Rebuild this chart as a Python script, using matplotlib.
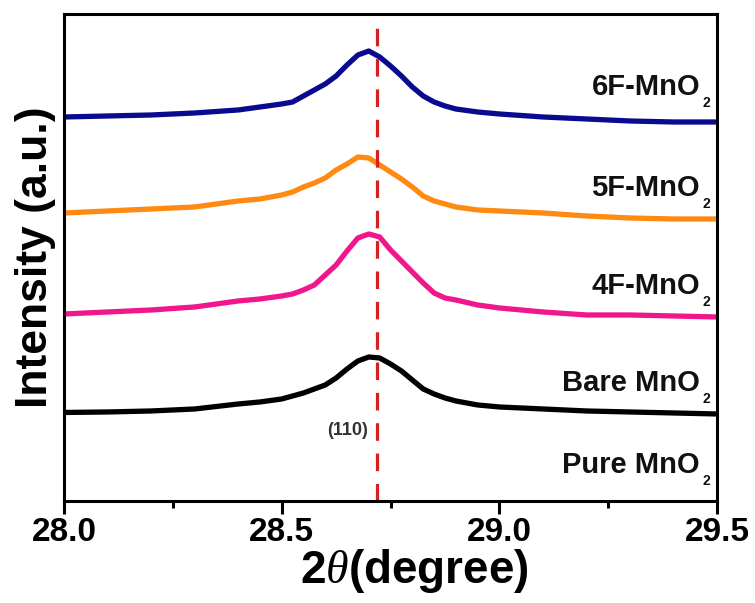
import numpy as np
import matplotlib
matplotlib.use("Agg")
from matplotlib import pyplot as plt
from matplotlib.ticker import MultipleLocator

plt.rcParams['font.family'] = ['Liberation Sans', 'DejaVu Sans']
plt.rcParams['mathtext.fontset'] = 'custom'
plt.rcParams['mathtext.rm'] = 'Liberation Sans:bold'
plt.rcParams['mathtext.it'] = 'Liberation Serif:italic'
plt.rcParams['mathtext.bf'] = 'Liberation Sans:bold'

# 2theta sample positions (degree)
two_theta = [28.0, 28.1, 28.2, 28.3, 28.4, 28.45, 28.5, 28.525, 28.55, 28.575,
             28.6, 28.625, 28.65, 28.675, 28.7, 28.725, 28.75, 28.775, 28.8,
             28.825, 28.85, 28.875, 28.9, 28.95, 29.0, 29.1, 29.2, 29.3, 29.4, 29.5]

# intensity (a.u., stacked with offsets)
bare = [88.5, 89, 90, 92, 97, 99, 102, 105, 108, 112,
        116, 123, 132, 140, 144, 143, 137, 130, 121,
        112, 107, 103, 100, 96, 94, 92, 90, 89, 88, 87]
f4 = [187, 189, 191, 194, 200, 202, 205, 207, 211, 216,
      226, 236, 250, 263, 267, 264, 251, 240, 229,
      218, 208, 203, 201, 196, 193, 189, 186, 186, 185, 184]
f5 = [288, 290, 292, 294, 300, 302, 306, 309, 314, 318,
      323, 331, 337, 344, 343, 336, 329, 322, 314,
      305, 300, 297, 294, 291, 290, 288, 285, 283, 282, 282]
f6 = [384, 385, 386, 388, 391, 394, 397, 399, 405, 411,
      417, 425, 436, 446, 450, 444, 435, 425, 414,
      405, 399, 395, 392, 389, 387, 384, 382, 380, 379, 379]

series = [bare, f4, f5, f6]
colors = ['black', '#F0168C', '#FF8A12', '#0A0A8E']
names = ['Pure MnO', 'Bare MnO', '4F-MnO', '5F-MnO', '6F-MnO']
name_y = [28, 110, 207, 305, 406]
peak_pos = 28.718

fig = plt.figure(figsize=(7.55, 6.03), dpi=100)
ax = fig.add_axes([0.0848, 0.1692, 0.865, 0.8076])

for y, c in zip(series, colors):
    ax.plot(two_theta, y, color=c, lw=3.8, solid_capstyle='butt',
            solid_joinstyle='round')

ax.axvline(peak_pos, color='#D42020', lw=2.3, dashes=(5.5, 4))

# sample names with a lowered subscript 2
for nm, yy in zip(names, name_y):
    t = ax.text(29.461, yy, nm, ha='right', va='baseline', fontsize=21,
                fontweight='bold', color='#111111')
    ax.annotate('2', xy=(1, 0), xycoords=t, xytext=(1.5, -6.5),
                textcoords='offset points', ha='left', va='bottom',
                fontsize=10, fontweight='bold', color='#111111')
ax.text(28.698, 66, '(110)', ha='right', va='baseline', fontsize=13,
        fontweight='bold', color='#333333')

ax.set_xlim(28.0, 29.5)
ax.set_ylim(0, 487)
ax.set_yticks([])
ax.xaxis.set_major_locator(MultipleLocator(0.5))
ax.xaxis.set_minor_locator(MultipleLocator(0.25))
ax.tick_params(axis='x', which='major', direction='out', length=9.5, width=2.2, pad=2)
ax.tick_params(axis='x', which='minor', direction='out', length=5, width=2.2)
for sp in ax.spines.values():
    sp.set_linewidth(2.2)

ax.set_xticks([28.0, 28.5, 29.0, 29.5])
ax.set_xticklabels(['28.0', '28.5', '29.0', '29.5'], fontweight='bold', fontsize=24)

ax.set_xlabel(r'2$\theta$(degree)', fontsize=33, fontweight='bold')
ax.xaxis.set_label_coords(0.537, -0.095)
ax.set_ylabel('Intensity (a.u.)', fontsize=32, fontweight='bold', labelpad=6)

fig.savefig('out.png', dpi=100)
